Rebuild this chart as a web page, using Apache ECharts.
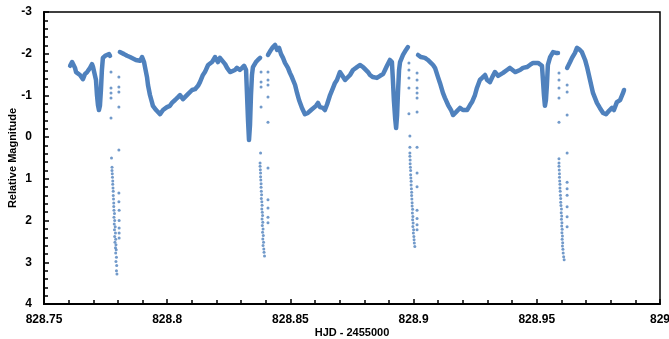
<!DOCTYPE html>
<html>
<head>
<meta charset="utf-8">
<script src="https://cdn.jsdelivr.net/npm/echarts@6/dist/echarts.min.js"></script>
<style>
  html, body { margin: 0; padding: 0; background: #fff; }
  #chart { width: 669px; height: 339px; }
</style>
</head>
<body>
<div id="chart"></div>
<script>
// light curve, continuous stretches between the deep eclipses (HJD - 2455000, mag)
const bandA = [
  [828.7606,-1.71],[828.7614,-1.80],[828.7626,-1.66],[828.7630,-1.56],[828.7638,-1.54],[828.7646,-1.49],
  [828.7658,-1.39],[828.7666,-1.51],[828.7675,-1.56],[828.7687,-1.66],[828.7695,-1.75],[828.7699,-1.68],
  [828.7707,-1.66],[828.7711,-1.37],[828.7715,-1.01],[828.7719,-0.77],[828.7723,-0.65],[828.7727,-0.75],
  [828.7731,-1.13],[828.7735,-1.61],[828.7739,-1.90],[828.7748,-1.95],[828.7756,-1.97],[828.7764,-1.99],
  [828.7768,-1.95]
];
const bandB = [
  [828.7808,-2.04],[828.7825,-1.99],[828.7837,-1.95],[828.7849,-1.92],[828.7857,-1.90],[828.7873,-1.85],
  [828.7890,-1.83],[828.7898,-1.92],[828.7906,-1.80],[828.7910,-1.68],[828.7918,-1.44],[828.7922,-1.25],
  [828.7930,-1.01],[828.7938,-0.84],[828.7942,-0.75],[828.7955,-0.65],[828.7971,-0.55],[828.7983,-0.65],
  [828.7999,-0.72],[828.8011,-0.75],[828.8019,-0.82],[828.8032,-0.89],[828.8044,-0.96],[828.8052,-1.01],
  [828.8064,-0.91],[828.8072,-0.94],[828.8084,-1.03],[828.8101,-1.13],[828.8113,-1.15],[828.8125,-1.23],
  [828.8133,-1.32],[828.8145,-1.49],[828.8153,-1.56],[828.8166,-1.73],[828.8182,-1.80],[828.8194,-1.92],
  [828.8206,-1.80],[828.8214,-1.90],[828.8222,-1.87],[828.8235,-1.75],[828.8243,-1.66],[828.8255,-1.56],
  [828.8263,-1.54],[828.8275,-1.61],[828.8283,-1.66],[828.8295,-1.61],[828.8304,-1.66],[828.8312,-1.71],
  [828.8320,-1.61],[828.8324,-1.01],[828.8328,-0.41],[828.8332,0.07],[828.8336,-0.29],[828.8340,-1.01],
  [828.8344,-1.49],[828.8348,-1.68],[828.8360,-1.80],[828.8368,-1.85],[828.8377,-1.90]
];
const bandC = [
  [828.8409,-1.97],[828.8421,-2.09],[828.8429,-2.16],[828.8438,-2.21],[828.8446,-2.09],[828.8454,-2.14],
  [828.8462,-1.99],[828.8470,-1.90],[828.8478,-1.78],[828.8490,-1.66],[828.8498,-1.54],[828.8506,-1.44],
  [828.8519,-1.25],[828.8527,-1.06],[828.8535,-0.89],[828.8547,-0.70],[828.8559,-0.55],[828.8571,-0.58],
  [828.8584,-0.65],[828.8592,-0.67],[828.8604,-0.75],[828.8612,-0.82],[828.8620,-0.72],[828.8632,-0.70],
  [828.8640,-0.65],[828.8649,-0.79],[828.8661,-1.01],[828.8673,-1.18],[828.8681,-1.30],[828.8689,-1.37],
  [828.8701,-1.56],[828.8709,-1.49],[828.8722,-1.37],[828.8730,-1.39],[828.8742,-1.49],[828.8754,-1.61],
  [828.8766,-1.66],[828.8782,-1.73],[828.8795,-1.68],[828.8803,-1.66],[828.8815,-1.56],[828.8823,-1.49],
  [828.8835,-1.44],[828.8851,-1.42],[828.8864,-1.47],[828.8876,-1.51],[828.8884,-1.61],[828.8892,-1.71],
  [828.8904,-1.85],[828.8912,-1.80],[828.8916,-1.37],[828.8920,-0.89],[828.8925,-0.46],[828.8929,-0.22],
  [828.8933,-0.53],[828.8937,-1.13],[828.8941,-1.61],[828.8945,-1.80],[828.8957,-1.97],[828.8969,-2.09],
  [828.8977,-2.16]
];
const bandD = [
  [828.9018,-1.97],[828.9030,-1.92],[828.9046,-1.90],[828.9058,-1.85],[828.9067,-1.80],[828.9079,-1.73],
  [828.9087,-1.66],[828.9099,-1.44],[828.9107,-1.30],[828.9119,-1.06],[828.9127,-0.94],[828.9140,-0.77],
  [828.9152,-0.65],[828.9160,-0.53],[828.9172,-0.60],[828.9188,-0.70],[828.9200,-0.65],[828.9217,-0.65],
  [828.9229,-0.77],[828.9237,-0.84],[828.9249,-1.01],[828.9257,-1.18],[828.9269,-1.37],[828.9278,-1.42],
  [828.9290,-1.49],[828.9298,-1.37],[828.9310,-1.32],[828.9322,-1.47],[828.9330,-1.56],[828.9343,-1.47],
  [828.9351,-1.44],[828.9363,-1.54],[828.9379,-1.61],[828.9391,-1.66],[828.9399,-1.68],[828.9412,-1.56],
  [828.9420,-1.54],[828.9432,-1.61],[828.9444,-1.66],[828.9460,-1.68],[828.9472,-1.73],[828.9485,-1.78],
  [828.9493,-1.80],[828.9505,-1.78],[828.9513,-1.80],[828.9521,-1.71],[828.9525,-1.37],[828.9529,-1.01],
  [828.9533,-0.75],[828.9537,-0.89],[828.9541,-1.25],[828.9545,-1.73],[828.9554,-1.92],[828.9566,-2.04],
  [828.9578,-2.02],[828.9586,-2.02]
];
const bandE = [
  [828.9623,-1.66],[828.9635,-1.80],[828.9643,-1.90],[828.9655,-2.02],[828.9663,-2.14],[828.9667,-2.18],
  [828.9675,-2.09],[828.9683,-2.04],[828.9696,-1.85],[828.9704,-1.68],[828.9716,-1.37],[828.9728,-1.06],
  [828.9736,-0.94],[828.9744,-0.82],[828.9756,-0.70],[828.9769,-0.58],[828.9781,-0.55],[828.9793,-0.63],
  [828.9805,-0.70],[828.9813,-0.65],[828.9825,-0.84],[828.9838,-0.89],[828.9850,-1.06],[828.9854,-1.13]
];

// sparse points through the deep eclipses
const eclipse1 = [
  [828.7772,-1.56],[828.7772,-1.18],[828.7772,-1.06],[828.7772,-0.94],[828.7772,-0.46],[828.7774,0.50],
  [828.7776,0.72],[828.7776,0.80],[828.7777,0.88],[828.7778,0.96],[828.7779,1.05],[828.7779,1.13],
  [828.7780,1.22],[828.7781,1.30],[828.7781,1.40],[828.7782,1.48],[828.7783,1.58],[828.7783,1.66],
  [828.7784,1.75],[828.7786,1.83],[828.7784,1.92],[828.7787,2.00],[828.7785,2.08],[828.7789,2.15],
  [828.7786,2.22],[828.7790,2.30],[828.7787,2.38],[828.7791,2.45],[828.7788,2.52],[828.7792,2.58],
  [828.7790,2.65],[828.7793,2.70],[828.7791,2.78],[828.7794,2.88],[828.7792,2.98],[828.7795,3.08],
  [828.7794,3.20],[828.7796,3.28],
  [828.7804,-1.44],[828.7804,-1.20],[828.7804,-1.08],[828.7804,-0.72],[828.7804,0.31],[828.7804,1.34],
  [828.7804,1.55],[828.7805,1.75],[828.7805,2.00],[828.7805,2.18],[828.7805,2.30],[828.7805,2.42]
];
const eclipse2 = [
  [828.8381,-1.56],[828.8381,-1.32],[828.8381,-1.20],[828.8381,-0.72],[828.8379,0.38],
  [828.8377,0.62],[828.8377,0.70],[828.8378,0.78],[828.8379,0.86],[828.8379,0.95],[828.8380,1.03],
  [828.8381,1.12],[828.8381,1.20],[828.8382,1.30],[828.8383,1.38],[828.8382,1.47],[828.8384,1.55],
  [828.8385,1.63],[828.8384,1.72],[828.8386,1.80],[828.8387,1.88],[828.8385,1.96],[828.8388,2.04],
  [828.8386,2.12],[828.8389,2.20],[828.8387,2.28],[828.8390,2.36],[828.8388,2.44],[828.8391,2.52],
  [828.8389,2.60],[828.8392,2.68],[828.8393,2.76],[828.8395,2.85],
  [828.8409,-1.56],[828.8409,-1.37],[828.8409,-1.25],[828.8409,-0.96],[828.8409,-0.36],[828.8409,0.74],
  [828.8409,1.50],[828.8409,1.70],[828.8409,1.92],[828.8409,2.05]
];
const eclipse3 = [
  [828.8981,-1.78],[828.8981,-1.61],[828.8981,-1.42],[828.8981,-1.18],[828.8981,-0.56],[828.8985,-0.03],
  [828.8985,0.24],
  [828.8985,0.38],[828.8985,0.46],[828.8986,0.55],[828.8986,0.64],[828.8987,0.72],[828.8988,0.80],
  [828.8988,0.90],[828.8989,0.98],[828.8990,1.06],[828.8990,1.15],[828.8991,1.24],[828.8992,1.32],
  [828.8992,1.40],[828.8993,1.48],[828.8994,1.57],[828.8994,1.65],[828.8996,1.73],[828.8995,1.82],
  [828.8997,1.90],[828.8996,1.98],[828.8998,2.06],[828.8997,2.14],[828.9000,2.22],[828.8999,2.30],
  [828.9001,2.38],[828.9002,2.46],[828.9003,2.54],[828.9005,2.62],
  [828.9014,-1.54],[828.9014,-1.37],[828.9014,-1.18],[828.9014,-1.06],[828.9014,-0.94],[828.9014,-0.60],
  [828.9014,0.24],[828.9014,0.86],[828.9014,1.19],[828.9014,1.75],[828.9014,1.95],[828.9014,2.10],
  [828.9014,2.22]
];
const eclipse4 = [
  [828.9590,-1.54],[828.9590,-1.37],[828.9590,-1.18],[828.9590,-0.94],[828.9590,-0.36],[828.9590,0.52],
  [828.9590,0.62],[828.9590,0.70],[828.9591,0.79],[828.9592,0.88],[828.9592,0.96],[828.9593,1.05],
  [828.9594,1.13],[828.9594,1.22],[828.9595,1.30],[828.9596,1.39],[828.9597,1.47],[828.9597,1.56],
  [828.9598,1.64],[828.9600,1.72],[828.9599,1.81],[828.9601,1.89],[828.9600,1.97],[828.9602,2.05],
  [828.9601,2.13],[828.9603,2.21],[828.9602,2.29],[828.9604,2.37],[828.9603,2.45],[828.9605,2.53],
  [828.9604,2.61],[828.9606,2.69],[828.9607,2.78],[828.9609,2.87],[828.9611,2.94],
  [828.9623,-1.25],[828.9623,-1.08],[828.9623,-0.53],[828.9623,0.38],[828.9623,1.08],[828.9623,1.24],
  [828.9623,1.39],[828.9623,1.67],[828.9623,1.91],[828.9623,2.15]
];

const xTickLabels = ['828.75', '828.8', '828.85', '828.9', '828.95', '829'];

const blue = '#4f81bd';
const font = '"Liberation Sans", Arial, sans-serif';

const chart = echarts.init(document.getElementById('chart'), null, { renderer: 'canvas' });

const bandSeries = [bandA, bandB, bandC, bandD, bandE].map(d => ({
  type: 'line',
  data: d,
  showSymbol: false,
  symbol: 'none',
  lineStyle: { color: blue, width: 4.5, join: 'round', cap: 'round' },
  z: 2
}));
const dipSeries = [eclipse1, eclipse2, eclipse3, eclipse4].map(d => ({
  type: 'scatter',
  data: d,
  symbolSize: 3,
  itemStyle: { color: blue },
  z: 3
}));

chart.setOption({
  animation: false,
  grid: {
    left: 44, right: 9, top: 12, bottom: 35,
    outerBoundsMode: 'none',
    show: true, borderColor: '#000', borderWidth: 1.5
  },
  xAxis: {
    type: 'value',
    min: 828.75, max: 829, interval: 0.05,
    name: 'HJD - 2455000',
    nameLocation: 'middle',
    nameGap: 23,
    nameMoveOverlap: false,
    nameTextStyle: { fontFamily: font, fontWeight: 'bold', fontSize: 11, color: '#000' },
    axisLine: { onZero: false, lineStyle: { color: '#000', width: 2 } },
    axisTick: { inside: true, length: 5, lineStyle: { color: '#000', width: 1.5 } },
    minorTick: { show: true, splitNumber: 5, length: 4, lineStyle: { color: '#000', width: 1.5 } },
    splitLine: { show: false },
    axisLabel: {
      margin: 10,
      fontFamily: font, fontWeight: 'bold', fontSize: 12, color: '#000',
      formatter: (v) => xTickLabels[Math.round((v - 828.75) / 0.05)] || ''
    }
  },
  yAxis: {
    type: 'value',
    inverse: true,
    min: -3, max: 4, interval: 1,
    name: 'Relative Magnitude',
    nameLocation: 'middle',
    nameGap: 26,
    nameRotate: 90,
    nameMoveOverlap: false,
    nameTextStyle: { fontFamily: font, fontWeight: 'bold', fontSize: 11, color: '#000' },
    axisLine: { show: true, onZero: false, lineStyle: { color: '#000', width: 2 } },
    axisTick: { show: true, inside: true, length: 5, lineStyle: { color: '#000', width: 1.5 } },
    minorTick: { show: true, splitNumber: 5, length: 4, lineStyle: { color: '#000', width: 1.5 } },
    splitLine: { show: false },
    axisLabel: {
      margin: 12,
      fontFamily: font, fontWeight: 'bold', fontSize: 12, color: '#000'
    }
  },
  series: bandSeries.concat(dipSeries)
});
</script>
</body>
</html>
